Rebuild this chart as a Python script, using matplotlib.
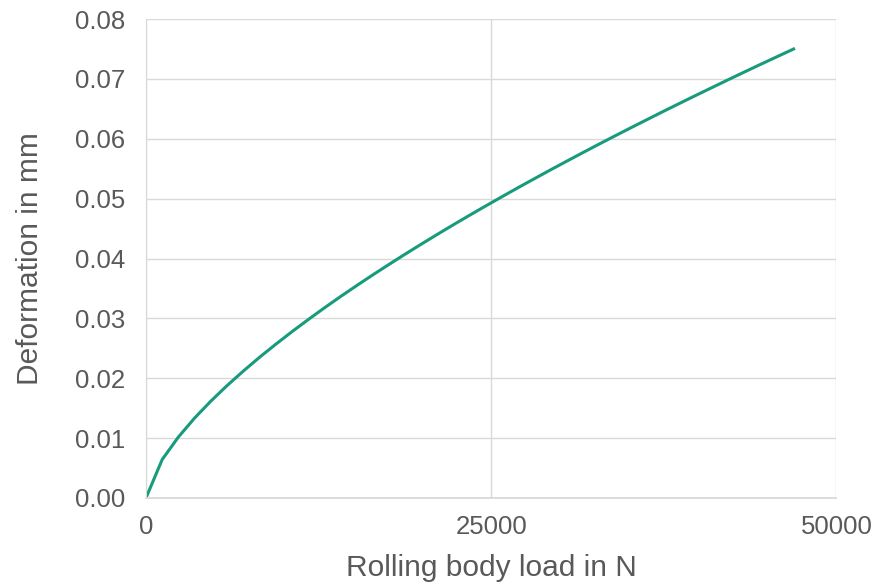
import matplotlib.pyplot as plt

# rolling body load (N) and deformation (mm)
load = [0, 1175, 2350, 3525, 4700, 5875, 7050, 8225, 9400, 10575,
        11750, 12925, 14100, 15275, 16450, 17625, 18800, 19975, 21150, 22325,
        23500, 24675, 25850, 27025, 28200, 29375, 30550, 31725, 32900, 34075,
        35250, 36425, 37600, 38775, 39950, 41125, 42300, 43475, 44650, 45825,
        47000]
deform = [0.0, 0.00642, 0.01019, 0.01336, 0.01618, 0.01878, 0.02120, 0.02350, 0.02568, 0.02778,
          0.02980, 0.03176, 0.03366, 0.03550, 0.03730, 0.03905, 0.04077, 0.04245, 0.04410, 0.04572,
          0.04731, 0.04887, 0.05041, 0.05193, 0.05342, 0.05490, 0.05635, 0.05779, 0.05921, 0.06061,
          0.06199, 0.06336, 0.06472, 0.06606, 0.06739, 0.06870, 0.07001, 0.07130, 0.07258, 0.07384,
          0.07510]

xticks = [0, 25000, 50000]
yticks = [0.00, 0.01, 0.02, 0.03, 0.04, 0.05, 0.06, 0.07, 0.08]

plt.rcParams['font.family'] = ['Liberation Sans', 'DejaVu Sans']
txt = '#595959'
grid = '#d9d9d9'

fig = plt.figure(figsize=(8.74, 5.83), dpi=100)
ax = fig.add_axes([0.167, 0.1458, 0.790, 0.8216])

ax.plot(load, deform, color='#179b7b', lw=2.2, solid_capstyle='butt')

ax.set_xlim(0, 50000)
ax.set_ylim(0, 0.08)
ax.set_xticks(xticks)
ax.set_xticklabels([str(v) for v in xticks])
ax.set_yticks(yticks)
ax.set_yticklabels(['%.2f' % v for v in yticks])
ax.grid(True, color=grid, lw=1)
ax.set_axisbelow(True)
for s in ax.spines.values():
    s.set_visible(False)
ax.spines['left'].set_visible(True)
ax.spines['left'].set_color(grid)
ax.spines['bottom'].set_visible(True)
ax.spines['bottom'].set_color(grid)
ax.spines['bottom'].set_linewidth(1.3)

ax.tick_params(axis='both', length=0, labelsize=18.5, labelcolor=txt)
ax.tick_params(axis='y', pad=15)
ax.tick_params(axis='x', pad=12)

ax.set_xlabel('Rolling body load in N', fontsize=21.5, color=txt, labelpad=11)
ax.set_ylabel('Deformation in mm', fontsize=21.5, color=txt, labelpad=22)

fig.savefig('out.png', dpi=100)
